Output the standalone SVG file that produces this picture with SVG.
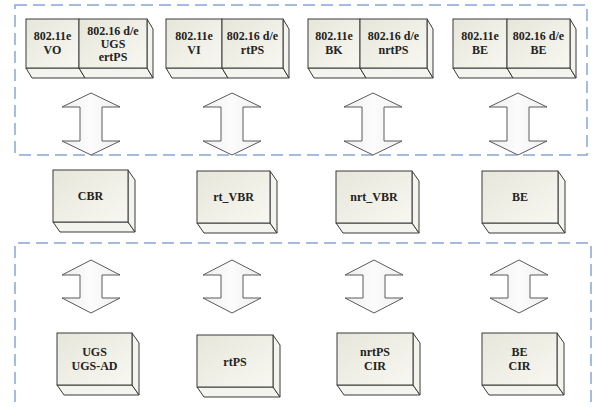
<svg xmlns="http://www.w3.org/2000/svg" width="593" height="407" viewBox="0 0 593 407">
<defs>
<linearGradient id="gf" x1="0" y1="0" x2="1" y2="1">
<stop offset="0" stop-color="#e6e6da"/>
<stop offset="1" stop-color="#f8f8f2"/>
</linearGradient>
<linearGradient id="ga" x1="0" y1="0" x2="1" y2="0">
<stop offset="0" stop-color="#eeeeee"/>
<stop offset="0.5" stop-color="#fcfcfc"/>
<stop offset="1" stop-color="#eeeeee"/>
</linearGradient>
</defs>
<style>
.dash{fill:none;stroke:#86a6d6;stroke-width:1.5;stroke-dasharray:12 6}
.front{fill:url(#gf);stroke:#3a3a3a;stroke-width:1}
.side{fill:#f4f4ee;stroke:#3a3a3a;stroke-width:1;stroke-linejoin:round}
.arr{fill:url(#ga);stroke:#5a5a5a;stroke-width:1;stroke-linejoin:miter}
.t{font-weight:bold;font-size:12px;fill:#222;text-anchor:middle}
</style>
<rect width="593" height="407" fill="#ffffff"/>
<rect class="dash" x="15" y="5" width="572" height="150"/>
<path class="dash" d="M15,420 L15,243 L591,243 L591,420"/>

<g id="connectors">
<polygon class="arr" points="91,93 120,107 102,107 102,141 120,141 91,155 62,141 80,141 80,107 62,107"/>
<polygon class="arr" points="232,93 261,107 243,107 243,141 261,141 232,155 203,141 221,141 221,107 203,107"/>
<polygon class="arr" points="373,93 402,107 384,107 384,141 402,141 373,155 344,141 362,141 362,107 344,107"/>
<polygon class="arr" points="518,93 547,107 529,107 529,141 547,141 518,155 489,141 507,141 507,107 489,107"/>
<polygon class="arr" points="91,260 120,275 102,275 102,298 120,298 91,313 62,298 80,298 80,275 62,275"/>
<polygon class="arr" points="232,260 261,275 243,275 243,298 261,298 232,313 203,298 221,298 221,275 203,275"/>
<polygon class="arr" points="374,260 403,275 385,275 385,298 403,298 374,313 345,298 363,298 363,275 345,275"/>
<polygon class="arr" points="519,260 548,275 530,275 530,298 548,298 519,313 490,298 508,298 508,275 490,275"/>
</g>

<g font-family="'Liberation Serif', 'Times New Roman', serif">
<g id="top1">
<polygon class="side" points="26,68 79,68 85,78 32,78"/>
<polygon class="side" points="79,68 147,68 153,78 85,78"/>
<polygon class="side" points="147,19 153,29 153,78 147,68"/>
<rect class="front" x="26" y="19" width="53" height="49"/>
<rect class="front" x="79" y="19" width="68" height="49"/>
<text class="t" x="52.5" y="40">802.11e</text><text class="t" x="52.5" y="54">VO</text>
<text class="t" x="113" y="35">802.16 d/e</text><text class="t" x="113" y="48">UGS</text><text class="t" x="113" y="61">ertPS</text>
</g>

<g id="top2">
<polygon class="side" points="166,68 222,68 228,78 172,78"/>
<polygon class="side" points="222,68 283,68 289,78 228,78"/>
<polygon class="side" points="283,19 289,29 289,78 283,68"/>
<rect class="front" x="166" y="19" width="56" height="49"/>
<rect class="front" x="222" y="19" width="61" height="49"/>
<text class="t" x="194" y="40">802.11e</text><text class="t" x="194" y="54">VI</text>
<text class="t" x="252.5" y="40">802.16 d/e</text><text class="t" x="252.5" y="54">rtPS</text>
</g>

<g id="top3">
<polygon class="side" points="308,68 360,68 366,78 314,78"/>
<polygon class="side" points="360,68 427,68 433,78 366,78"/>
<polygon class="side" points="427,19 433,29 433,78 427,68"/>
<rect class="front" x="308" y="19" width="52" height="49"/>
<rect class="front" x="360" y="19" width="67" height="49"/>
<text class="t" x="334" y="40">802.11e</text><text class="t" x="334" y="54">BK</text>
<text class="t" x="393.5" y="40">802.16 d/e</text><text class="t" x="393.5" y="54">nrtPS</text>
</g>

<g id="top4">
<polygon class="side" points="453,68 507,68 513,78 459,78"/>
<polygon class="side" points="507,68 570,68 576,78 513,78"/>
<polygon class="side" points="570,19 576,29 576,78 570,68"/>
<rect class="front" x="453" y="19" width="54" height="49"/>
<rect class="front" x="507" y="19" width="63" height="49"/>
<text class="t" x="480" y="40">802.11e</text><text class="t" x="480" y="54">BE</text>
<text class="t" x="538.5" y="40">802.16 d/e</text><text class="t" x="538.5" y="54">BE</text>
</g>

<g id="cbr">
<polygon class="side" points="53,222 128,222 135,232 60,232"/>
<polygon class="side" points="128,170 135,180 135,232 128,222"/>
<rect class="front" x="53" y="170" width="75" height="52"/>
<text class="t" x="90.5" y="200">CBR</text>
</g>
<g id="rt_vbr">
<polygon class="side" points="197,223 270,223 277,233 204,233"/>
<polygon class="side" points="270,171 277,181 277,233 270,223"/>
<rect class="front" x="197" y="171" width="73" height="52"/>
<text class="t" x="233.5" y="201">rt_VBR</text>
</g>
<g id="nrt_vbr">
<polygon class="side" points="336,223 412,223 419,233 343,233"/>
<polygon class="side" points="412,171 419,181 419,233 412,223"/>
<rect class="front" x="336" y="171" width="76" height="52"/>
<text class="t" x="374" y="201">nrt_VBR</text>
</g>
<g id="be_mid">
<polygon class="side" points="482,223 558,223 565,233 489,233"/>
<polygon class="side" points="558,171 565,181 565,233 558,223"/>
<rect class="front" x="482" y="171" width="76" height="52"/>
<text class="t" x="520" y="201">BE</text>
</g>

<g id="ugs">
<polygon class="side" points="57,385 132,385 139,395 64,395"/>
<polygon class="side" points="132,333 139,343 139,395 132,385"/>
<rect class="front" x="57" y="333" width="75" height="52"/>
<text class="t" x="94.5" y="356">UGS</text><text class="t" x="94.5" y="370">UGS-AD</text>
</g>
<g id="rtps">
<polygon class="side" points="197,387 273,387 280,397 204,397"/>
<polygon class="side" points="273,335 280,345 280,397 273,387"/>
<rect class="front" x="197" y="335" width="76" height="52"/>
<text class="t" x="235" y="366">rtPS</text>
</g>
<g id="nrtps">
<polygon class="side" points="337,385 413,385 420,395 344,395"/>
<polygon class="side" points="413,333 420,343 420,395 413,385"/>
<rect class="front" x="337" y="333" width="76" height="52"/>
<text class="t" x="375" y="356">nrtPS</text><text class="t" x="375" y="370">CIR</text>
</g>
<g id="be_cir">
<polygon class="side" points="482,385 557,385 564,395 489,395"/>
<polygon class="side" points="557,333 564,343 564,395 557,385"/>
<rect class="front" x="482" y="333" width="75" height="52"/>
<text class="t" x="519.5" y="356">BE</text><text class="t" x="519.5" y="370">CIR</text>
</g>
</g>
</svg>
